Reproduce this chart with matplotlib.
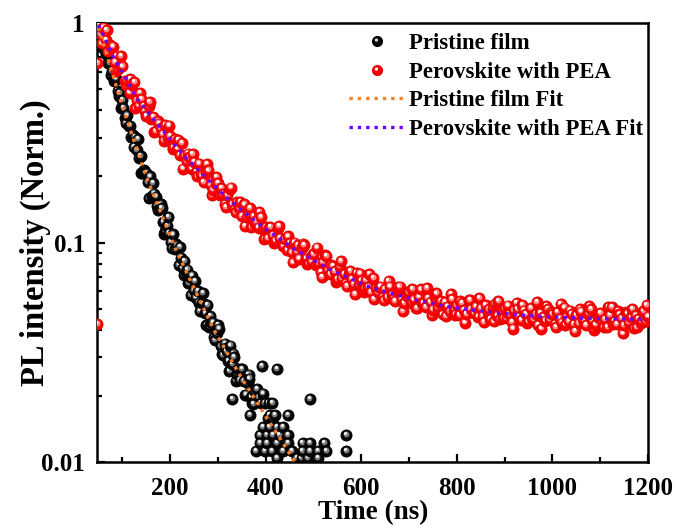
import matplotlib
matplotlib.use('Agg')
import numpy as np
import matplotlib.pyplot as plt
from matplotlib.transforms import offset_copy
from matplotlib.lines import Line2D
from matplotlib.path import Path
from matplotlib.legend_handler import HandlerTuple
from matplotlib.ticker import FixedLocator, FixedFormatter, LogLocator, NullFormatter, MultipleLocator

plt.rcParams['font.family'] = ['Liberation Serif', 'DejaVu Serif']
plt.rcParams['font.weight'] = 'bold'

# ---------------- data ----------------
pristine_time = [
    50, 54, 58, 62, 66, 70, 74, 78, 82, 86, 90, 94, 98, 102, 106, 110, 114, 118, 122, 126,
    130, 134, 138, 142, 146, 150, 154, 158, 162, 166, 170, 174, 178, 182, 186, 190, 194, 198, 202, 206,
    210, 214, 218, 222, 226, 230, 234, 238, 242, 246, 250, 254, 258, 262, 266, 270, 274, 278, 282, 286,
    290, 294, 298, 302, 306, 310, 314, 318, 322, 326, 330, 334, 338, 342, 346, 350, 354, 358, 362, 366,
    370, 374, 378,
    330, 367, 373, 379, 382, 386, 388, 388, 390, 392, 394, 394, 398, 398, 402, 402, 404, 406, 408, 408,
    413, 414, 415, 415, 419, 423, 423, 423, 423, 429, 436, 436, 446, 446, 446, 455, 465, 475, 477, 477,
    488, 492, 492, 492, 509, 509, 523, 527, 569, 569]
pristine_pl = [
    0.982, 0.862, 0.844, 0.820, 0.719, 0.655, 0.657, 0.603, 0.546, 0.558,
    0.488, 0.478, 0.408, 0.411, 0.371, 0.379, 0.339, 0.304, 0.309, 0.303,
    0.263, 0.243, 0.248, 0.207, 0.214, 0.2065, 0.189, 0.200, 0.163, 0.167,
    0.162, 0.140, 0.143, 0.1436, 0.124, 0.113, 0.1195, 0.1106, 0.1003, 0.1088,
    0.0931, 0.0967, 0.0789, 0.0854, 0.0767, 0.0823, 0.0734, 0.0654, 0.0696, 0.0706,
    0.0605, 0.0561, 0.0602, 0.0487, 0.0531, 0.0526, 0.0477, 0.0520, 0.0414, 0.0434,
    0.0432, 0.0360, 0.0386, 0.0405, 0.0338, 0.0307, 0.0346, 0.0321, 0.0288, 0.0339,
    0.0280, 0.0300, 0.0235, 0.0265, 0.0236, 0.0266, 0.0233, 0.0203, 0.0229, 0.0240,
    0.0198, 0.0183, 0.0209,
    0.0194, 0.0164, 0.0186, 0.0112, 0.0215, 0.0198, 0.0133, 0.0122, 0.0186, 0.0274,
    0.0144, 0.0205, 0.0112, 0.0186, 0.0133, 0.0122, 0.0158, 0.0186, 0.0164, 0.0144,
    0.0112, 0.0186, 0.0158, 0.0133, 0.0164, 0.0265, 0.0144, 0.0122, 0.0104, 0.0133,
    0.0144, 0.0112, 0.0164, 0.0133, 0.0122, 0.0112, 0.0104, 0.0104, 0.0122, 0.0112,
    0.0104, 0.0194, 0.0122, 0.0112, 0.0112, 0.0104, 0.0122, 0.0112, 0.0133, 0.0112]
# second (interleaved) set of pristine-film channels
pristine_time_2 = [
    52, 60, 68, 76, 84, 92, 100, 108, 116, 124, 132, 140, 148, 156, 164, 172, 180, 188, 196, 204,
    212, 220, 228, 236, 244, 252, 260, 268, 276, 284, 292, 300, 308, 316, 324, 332, 340, 348, 356, 364,
    372]
pristine_pl_2 = [
    0.979, 0.773, 0.725, 0.579, 0.569, 0.465, 0.447, 0.350, 0.341, 0.273,
    0.295, 0.208, 0.210, 0.159, 0.186, 0.147, 0.149, 0.1096, 0.131, 0.0941,
    0.0981, 0.0955, 0.0713, 0.0752, 0.0575, 0.0665, 0.0532, 0.0588, 0.0419, 0.0463,
    0.0372, 0.0422, 0.0312, 0.0331, 0.0259, 0.0312, 0.0253, 0.0265, 0.0202, 0.0250,
    0.0186]

pea_time = [
    48, 48,
    50, 55, 60, 65, 70, 75, 80, 85, 90, 95, 100, 105, 110, 115, 120, 125, 130, 135,
    140, 145, 150, 155, 160, 165, 170, 175, 180, 185, 190, 195, 200, 205, 210, 215, 220, 225, 230, 235,
    240, 245, 250, 255, 260, 265, 270, 275, 280, 285, 290, 295, 300, 305, 310, 315, 320, 325, 330, 335,
    340, 345, 350, 355, 360, 365, 370, 375, 380, 385, 390, 395, 400, 405, 410, 415, 420, 425, 430, 435,
    440, 445, 450, 455, 460, 465, 470, 475, 480, 485, 490, 495, 500, 505, 510, 515, 520, 525, 530, 535,
    540, 545, 550, 555, 560, 565, 570, 575, 580, 585, 590, 595, 600, 605, 610, 615, 620, 625, 630, 635,
    640, 645, 650, 655, 660, 665, 670, 675, 680, 685, 690, 695, 700, 705, 710, 715, 720, 725, 730, 735,
    740, 745, 750, 755, 760, 765, 770, 775, 780, 785, 790, 795, 800, 805, 810, 815, 820, 825, 830, 835,
    840, 845, 850, 855, 860, 865, 870, 875, 880, 885, 890, 895, 900, 905, 910, 915, 920, 925, 930, 935,
    940, 945, 950, 955, 960, 965, 970, 975, 980, 985, 990, 995, 1000, 1005, 1010, 1015, 1020, 1025, 1030, 1035,
    1040, 1045, 1050, 1055, 1060, 1065, 1070, 1075, 1080, 1085, 1090, 1095, 1100, 1105, 1110, 1115, 1120, 1125, 1130, 1135,
    1140, 1145, 1150, 1155, 1160, 1165, 1170, 1175, 1180, 1185, 1190, 1195, 1200]
pea_pl = [
    0.657, 0.0425,
    0.99, 0.888, 0.952, 0.837, 0.744, 0.793, 0.781, 0.662, 0.615, 0.639,
    0.634, 0.547, 0.547, 0.482, 0.521, 0.540, 0.446, 0.420, 0.450, 0.419,
    0.378, 0.419, 0.366, 0.372, 0.322, 0.356, 0.333, 0.311, 0.343, 0.299,
    0.305, 0.268, 0.296, 0.268, 0.250, 0.283, 0.249, 0.234, 0.245, 0.217,
    0.232, 0.209, 0.229, 0.206, 0.189, 0.208, 0.213, 0.183, 0.174, 0.184,
    0.186, 0.164, 0.166, 0.150, 0.165, 0.176, 0.150, 0.142, 0.153, 0.144,
    0.132, 0.149, 0.131, 0.135, 0.118, 0.132, 0.125, 0.117, 0.131, 0.115,
    0.118, 0.105, 0.118, 0.108, 0.102, 0.117, 0.105, 0.0991, 0.104, 0.0926,
    0.0995, 0.0901, 0.100, 0.0913, 0.0845, 0.0941, 0.0971, 0.0844, 0.0807, 0.0862,
    0.0883, 0.0788, 0.0808, 0.0732, 0.0817, 0.0877, 0.0751, 0.0717, 0.0782, 0.0742,
    0.0683, 0.0777, 0.0690, 0.0718, 0.0633, 0.0716, 0.0680, 0.0646, 0.0725, 0.0645,
    0.0671, 0.0598, 0.0674, 0.0625, 0.0595, 0.0689, 0.0622, 0.0593, 0.0630, 0.0565,
    0.0615, 0.0563, 0.0630, 0.0579, 0.0540, 0.0606, 0.0630, 0.0552, 0.0531, 0.0573,
    0.0591, 0.0532, 0.0550, 0.0503, 0.0566, 0.0611, 0.0528, 0.0509, 0.0560, 0.0535,
    0.0495, 0.0566, 0.0505, 0.0529, 0.0470, 0.0534, 0.0510, 0.0488, 0.0553, 0.0495,
    0.0518, 0.0466, 0.0530, 0.0493, 0.0472, 0.0549, 0.0499, 0.0477, 0.0511, 0.0460,
    0.0503, 0.0463, 0.0519, 0.0479, 0.0448, 0.0505, 0.0527, 0.0464, 0.0448, 0.0486,
    0.0502, 0.0454, 0.0472, 0.0433, 0.0489, 0.0530, 0.0459, 0.0444, 0.0489, 0.0471,
    0.0437, 0.0501, 0.0449, 0.0471, 0.0420, 0.0478, 0.0459, 0.0441, 0.0499, 0.0449,
    0.0471, 0.0425, 0.0483, 0.0451, 0.0432, 0.0505, 0.0460, 0.0440, 0.0472, 0.0426,
    0.0467, 0.0429, 0.0484, 0.0447, 0.0420, 0.0474, 0.0496, 0.0437, 0.0423, 0.0459,
    0.0477, 0.0432, 0.0449, 0.0413, 0.0467, 0.0507, 0.0439, 0.0426, 0.0470, 0.0452,
    0.0421, 0.0484, 0.0434, 0.0456, 0.0407, 0.0465, 0.0447, 0.0429, 0.0487, 0.0438,
    0.0460]
# second (interleaved) set of PEA channels
pea_time_2 = [
    57, 67, 77, 87, 97, 107, 117, 127, 137, 147, 157, 167, 177, 187, 197, 207, 217, 227, 237, 247,
    257, 267, 277, 287, 297, 307, 317, 327, 337, 347, 357, 367, 377, 387, 397, 407, 417, 427, 437, 447,
    457, 467, 477, 487, 497, 507, 517, 527, 537, 547, 557, 567, 577, 587, 597, 607, 617, 627, 637, 647,
    657, 667, 677, 687, 697, 707, 717, 727, 737, 747, 757, 767, 777, 787, 797, 807, 817, 827, 837, 847,
    857, 867, 877, 887, 897, 907, 917, 927, 937, 947, 957, 967, 977, 987, 997, 1007, 1017, 1027, 1037, 1047,
    1057, 1067, 1077, 1087, 1097, 1107, 1117, 1127, 1137, 1147, 1157, 1167, 1177, 1187, 1197]
pea_pl_2 = [
    0.807, 0.926, 0.774, 0.604, 0.707, 0.522, 0.556, 0.408, 0.480, 0.397,
    0.437, 0.320, 0.348, 0.291, 0.341, 0.271, 0.292, 0.217, 0.254, 0.253,
    0.200, 0.202, 0.228, 0.165, 0.199, 0.177, 0.145, 0.178, 0.138, 0.153,
    0.119, 0.144, 0.122, 0.138, 0.1036, 0.116, 0.099, 0.1188, 0.0963, 0.1065,
    0.0811, 0.0972, 0.0989, 0.0796, 0.0823, 0.0947, 0.0697, 0.0865, 0.0789, 0.0659,
    0.0823, 0.0651, 0.0740, 0.0583, 0.0721, 0.0621, 0.0717, 0.0551, 0.0627, 0.0545,
    0.0668, 0.0554, 0.0627, 0.0488, 0.0594, 0.0613, 0.0502, 0.0529, 0.0621, 0.0466,
    0.0586, 0.0543, 0.0461, 0.0584, 0.0469, 0.0541, 0.0432, 0.0545, 0.0477, 0.0557,
    0.0433, 0.0497, 0.0437, 0.0540, 0.0451, 0.0516, 0.0405, 0.0497, 0.0518, 0.0428,
    0.0454, 0.0536, 0.0405, 0.0514, 0.0481, 0.0411, 0.0524, 0.0423, 0.0490, 0.0394,
    0.0497, 0.0438, 0.0514, 0.0401, 0.0464, 0.0410, 0.0507, 0.0427, 0.0488, 0.0385,
    0.0475, 0.0496, 0.0411, 0.0438, 0.0519]

pristine_fit_time = [50, 60, 80, 100, 125, 150, 180, 210, 250, 290, 320, 350, 400, 460, 470]
pristine_fit_pl = [0.955, 0.809, 0.581, 0.417, 0.288, 0.1995, 0.1374, 0.0946, 0.0619,
                   0.0406, 0.0312, 0.0240, 0.0162, 0.0101, 0.0094]

pea_fit_time = [50, 80, 105, 130, 155, 175, 200, 230, 270, 310, 345, 375, 400, 430, 455, 485,
                515, 545, 580, 610, 645, 675, 710, 745, 780, 815, 850, 885, 925, 960, 995,
                1030, 1065, 1100, 1140, 1200]
pea_fit_pl = [0.98, 0.71, 0.57, 0.455, 0.388, 0.342, 0.296, 0.247, 0.203, 0.166, 0.143, 0.127,
              0.115, 0.104, 0.0948, 0.0870, 0.0796, 0.0735, 0.0680, 0.0636, 0.0601, 0.0577,
              0.0550, 0.0530, 0.0510, 0.0498, 0.0488, 0.0478, 0.0469, 0.0463, 0.0458, 0.0455,
              0.0452, 0.0450, 0.0448, 0.0447]

legend_labels = ['Pristine film', 'Perovskite with PEA', 'Pristine film Fit', 'Perovskite with PEA Fit']
x_ticks = [200, 400, 600, 800, 1000, 1200]
y_ticks = [0.01, 0.1, 1]
y_tick_labels = ['0.01', '0.1', '1']

ORANGE = '#ff7f27'
PURPLE = '#6a00ff'

# ---------------- figure ----------------
fig = plt.figure(figsize=(6.76, 5.28), dpi=100)
ax = fig.add_axes([97.5 / 676, 1 - 462 / 528, (648 - 97.5) / 676, (462 - 23) / 528])
ax.set_yscale('log')
ax.set_xlim(48, 1200)
ax.set_ylim(0.01, 1)

tr_mid = offset_copy(ax.transData, fig=fig, x=-0.7, y=1.2, units='dots')
tr_hi = offset_copy(ax.transData, fig=fig, x=-1.1, y=1.9, units='dots')


def spheres(xs, ys, base, edge, mid, hi, z):
    pts = sorted(zip(xs, ys), key=lambda p: p[0])
    for x, y in pts:
        ax.plot([x], [y], 'o', ms=8.0, mfc=base, mec=edge, mew=0.6, zorder=z)
        ax.plot([x], [y], 'o', ms=4.2, mfc=mid, mec='none', transform=tr_mid, zorder=z)
        ax.plot([x], [y], 'o', ms=2.3, mfc=hi, mec='none', transform=tr_hi, zorder=z)


spheres(pristine_time + pristine_time_2, pristine_pl + pristine_pl_2,
        '#050505', '#000000', '#7a7a7a', '#f0f0f0', 2)
spheres(pea_time + pea_time_2, pea_pl + pea_pl_2,
        '#ff0000', '#e00000', '#ff8a8a', '#ffffff', 3)

dots = (0, (1, 1.5))
ax.plot(pristine_fit_time, pristine_fit_pl, color=ORANGE, lw=2.4, ls=dots, zorder=5)
ax.plot(pea_fit_time, pea_fit_pl, color=PURPLE, lw=2.4, ls=dots, zorder=5)

# axes styling
for sp in ax.spines.values():
    sp.set_linewidth(1.8)
ax.xaxis.set_major_locator(FixedLocator(x_ticks))
ax.xaxis.set_minor_locator(MultipleLocator(100))
ax.yaxis.set_major_locator(FixedLocator(y_ticks))
ax.yaxis.set_major_formatter(FixedFormatter(y_tick_labels))
ax.yaxis.set_minor_locator(LogLocator(base=10, subs=range(2, 10)))
ax.yaxis.set_minor_formatter(NullFormatter())
ax.tick_params(which='both', direction='in', top=False, right=False, width=1.6)
ax.tick_params(which='major', length=6, labelsize=18)
ax.tick_params(axis='x', which='major', pad=11)
ax.tick_params(axis='y', which='major', pad=9)
ax.tick_params(which='minor', length=3.5)
for lab in ax.get_xticklabels() + ax.get_yticklabels():
    lab.set_fontweight('bold')

ax.set_xlabel('Time (ns)', fontsize=19.5, fontweight='bold', labelpad=0)
ax.set_ylabel('PL intensity (Norm.)', fontsize=23.5, fontweight='bold')
ax.yaxis.set_label_coords(-0.084, 0.5)

# legend: sphere-like handles (base disc + off-centre highlight marker)
_c = Path.circle((-0.22, 0.3), 0.34)
hl_path = Path(np.concatenate([[[-1.0, -1.0], [1.0, 1.0]], _c.vertices]),
               np.concatenate([[Path.MOVETO, Path.MOVETO], _c.codes]))
h1 = (Line2D([], [], ls='none', marker='o', ms=7.0, mfc='#050505', mec='#000000'),
      Line2D([], [], ls='none', marker=hl_path, ms=7.0, mfc='#d8d8d8', mec='none'))
h2 = (Line2D([], [], ls='none', marker='o', ms=7.0, mfc='#ff0000', mec='#e00000'),
      Line2D([], [], ls='none', marker=hl_path, ms=7.0, mfc='#ffffff', mec='none'))
h3 = Line2D([], [], color=ORANGE, lw=2.4, ls=dots)
h4 = Line2D([], [], color=PURPLE, lw=2.4, ls=dots)
ax.legend([h1, h2, h3, h4], legend_labels, handler_map={tuple: HandlerTuple(ndivide=1)},
          loc='upper right', bbox_to_anchor=(0.991, 0.977), frameon=False,
          prop={'size': 16.4, 'weight': 'bold'}, handlelength=2.5, handletextpad=0.15,
          labelspacing=0.33, borderpad=0, borderaxespad=0)

fig.savefig('out.png', dpi=100)
